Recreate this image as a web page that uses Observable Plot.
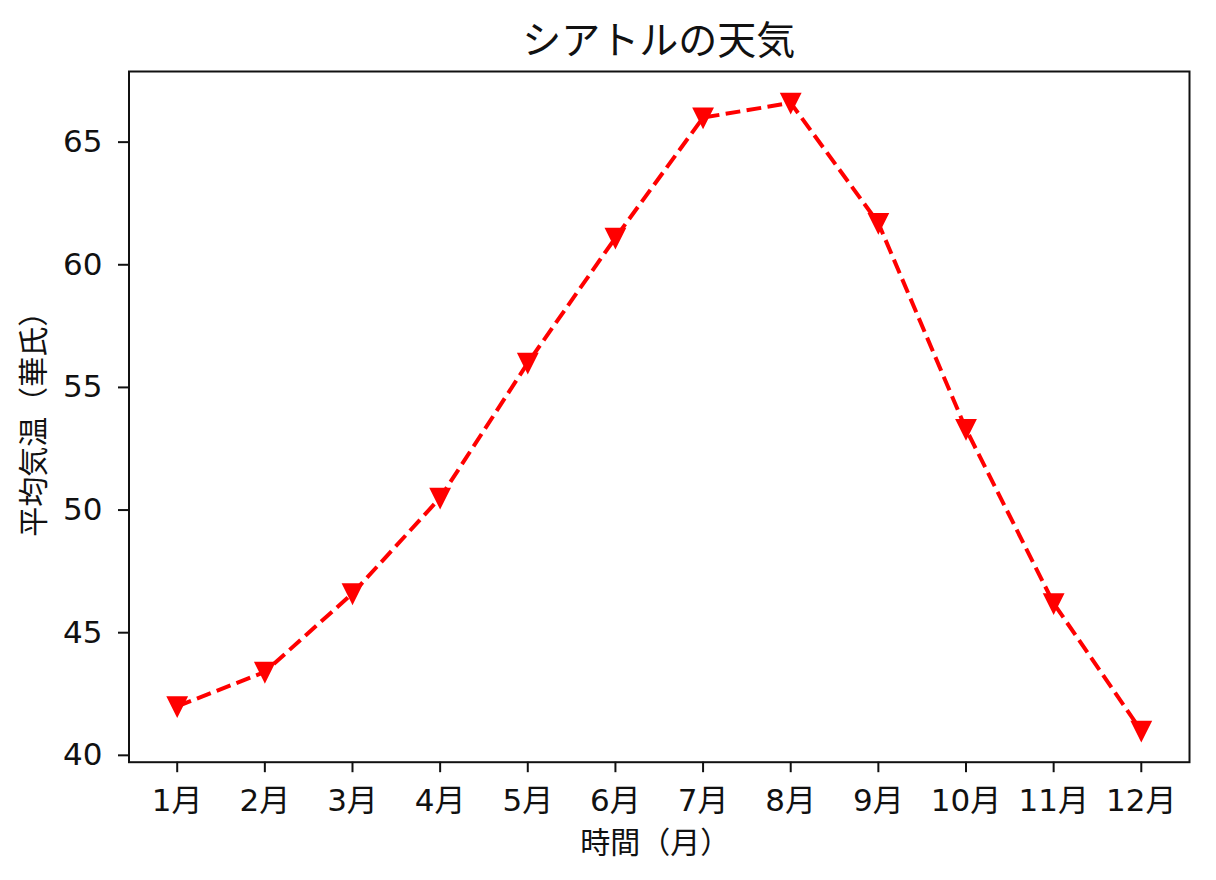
<!DOCTYPE html>
<html lang="ja">
<head>
<meta charset="utf-8">
<script src="https://cdn.jsdelivr.net/npm/d3@7"></script>
<script src="https://cdn.jsdelivr.net/npm/@observablehq/plot@0.6"></script>
<style>
  html, body { margin: 0; padding: 0; background: #fff; overflow: hidden; }
  #title {
    box-sizing: border-box;
    height: 60px;
    padding-top: 18px;
    margin-left: 128.5px;
    width: 1060.5px;
    text-align: center;
    font-family: "Noto Sans CJK JP", sans-serif;
    font-size: 39px;
    line-height: 38px;
    color: #111;
    white-space: nowrap;
  }
  #chart svg { display: block; }
</style>
</head>
<body>
<div id="title">シアトルの天気</div>
<div id="chart"></div>
<script>
// ---- data ----
const months = ["1月", "2月", "3月", "4月", "5月", "6月", "7月", "8月", "9月", "10月", "11月", "12月"];
const temps = [42.0, 43.4, 46.6, 50.5, 56.0, 61.1, 66.0, 66.6, 61.7, 53.3, 46.2, 41.0];
const yTicks = [40, 45, 50, 55, 60, 65];
const xLabel = "時間（月）";
const yLabel = "平均気温（華氏）";

const rows = months.map((m, i) => ({ month: i + 1, label: m, temp: temps[i] }));
const monthNums = rows.map(d => d.month);

// matplotlib-like 5% margins on both axes
const [x0, x1] = d3.extent(monthNums);
const [y0, y1] = d3.extent(temps);
const mx = (x1 - x0) * 0.05, my = (y1 - y0) * 0.05;

// downward-pointing triangle (matplotlib "v")
const triangleDown = {
  draw(context, size) {
    const r = Math.sqrt(size / Math.PI);
    context.moveTo(0, r);
    context.lineTo(-r, -r);
    context.lineTo(r, -r);
    context.closePath();
  }
};

const font = "'DejaVu Sans', 'Noto Sans CJK JP', sans-serif";

const chart = Plot.plot({
  width: 1216,
  height: 820,
  marginTop: 11,
  marginBottom: 118.3,
  marginLeft: 128.5,
  marginRight: 27,
  style: { fontFamily: font, color: "#111", background: "#fff", overflow: "visible" },
  x: { type: "linear", domain: [x0 - mx, x1 + mx], label: null },
  y: { type: "linear", domain: [y0 - my, y1 + my], label: null },
  marks: [
    Plot.axisY({
      ticks: yTicks,
      tickSize: 10.5,
      tickPadding: 16,
      fontSize: 31,
      stroke: "#111",
      strokeWidth: 2,
      label: null
    }),
    Plot.axisX({
      ticks: monthNums,
      tickFormat: d => months[d - 1],
      tickSize: 10.5,
      tickPadding: 16.5,
      fontSize: 31,
      stroke: "#111",
      strokeWidth: 2,
      label: null
    }),
    Plot.frame({ stroke: "#111", strokeWidth: 2 }),
    Plot.text([xLabel], {
      text: d => d,
      frameAnchor: "bottom",
      textAnchor: "middle",
      lineAnchor: "middle",
      dy: 81,
      dx: -4,
      fontSize: 30,
      fontFamily: "'Noto Sans CJK JP', sans-serif",
      fill: "#111"
    }),
    Plot.text([yLabel], {
      text: d => d,
      frameAnchor: "left",
      textAnchor: "middle",
      lineAnchor: "middle",
      rotate: -90,
      dx: -95,
      fontSize: 30,
      fontFamily: "'Noto Sans CJK JP', sans-serif",
      fill: "#111"
    }),
    Plot.line(rows, {
      x: "month",
      y: "temp",
      stroke: "red",
      strokeWidth: 4,
      strokeDasharray: "14.8,6.4",
      strokeLinecap: "butt",
      strokeLinejoin: "round"
    }),
    Plot.dot(rows, {
      x: "month",
      y: "temp",
      symbol: triangleDown,
      r: 8.8,
      fill: "red",
      stroke: "red",
      strokeWidth: 2.6
    })
  ]
});

document.getElementById("chart").appendChild(chart);
</script>
</body>
</html>
